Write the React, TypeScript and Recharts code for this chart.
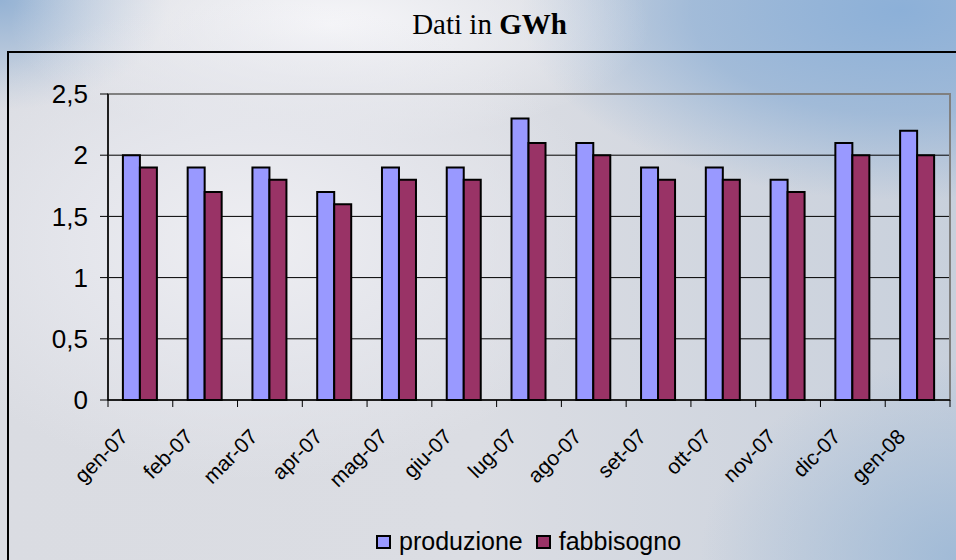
import React from 'react';
import { BarChart, Bar, XAxis, YAxis, CartesianGrid, ReferenceArea } from 'recharts';

const months = ['gen-07', 'feb-07', 'mar-07', 'apr-07', 'mag-07', 'giu-07', 'lug-07', 'ago-07', 'set-07', 'ott-07', 'nov-07', 'dic-07', 'gen-08'];
const produzione = [2.0, 1.9, 1.9, 1.7, 1.9, 1.9, 2.3, 2.1, 1.9, 1.9, 1.8, 2.1, 2.2];
const fabbisogno = [1.9, 1.7, 1.8, 1.6, 1.8, 1.8, 2.1, 2.0, 1.8, 1.8, 1.7, 2.0, 2.0];
const yTicks = [0, 0.5, 1, 1.5, 2, 2.5];
const seriesNames = ['produzione', 'fabbisogno'];
const seriesColors = ['#9999FF', '#993366'];

const data = months.map((m, i) => ({ month: m, produzione: produzione[i], fabbisogno: fabbisogno[i] }));

const SANS = '"Liberation Sans", Arial, sans-serif';
const SERIF = '"Liberation Serif", "Times New Roman", serif';

const XTick = (props: any) => {
  const { x, y, payload, index } = props;
  const half = payload && typeof payload.offset === 'number' && payload.offset > 0 ? payload.offset : 842 / months.length / 2;
  const isLast = index === months.length - 1;
  const tx = x - 11;
  const ty = y + 38;
  return (
    <g>
      <line x1={x - half} y1={y} x2={x - half} y2={y + 7} stroke="#000" strokeWidth={1} />
      {isLast && <line x1={x + half} y1={y} x2={x + half} y2={y + 7} stroke="#000" strokeWidth={1} />}
      <text x={tx} y={ty} transform={`rotate(-45, ${tx}, ${ty})`} textAnchor="end" fontSize={21} fontFamily={SANS} fill="#000">
        {payload.value}
      </text>
    </g>
  );
};

export default function App() {
  return (
    <div
      style={{
        position: 'absolute',
        left: 0,
        top: 0,
        width: 956,
        height: 560,
        overflow: 'hidden',
        background:
          'radial-gradient(ellipse 360px 240px at 250px 240px, rgba(238,238,242,1) 0%, rgba(230,231,237,0.9) 45%, rgba(230,231,237,0) 100%),' +
          'radial-gradient(ellipse 320px 120px at 330px 25px, rgba(246,246,249,1) 0%, rgba(242,242,246,0) 100%),' +
          'radial-gradient(ellipse 380px 190px at 900px 10px, rgba(140,176,216,1) 0%, rgba(146,178,214,0.75) 55%, rgba(146,178,214,0) 100%),' +
          'radial-gradient(ellipse 260px 200px at 960px 560px, rgba(156,184,214,0.9) 0%, rgba(156,184,214,0) 100%),' +
          'radial-gradient(ellipse 170px 110px at 0px 0px, rgba(148,178,212,1) 0%, rgba(148,178,212,0) 100%),' +
          'linear-gradient(90deg, #dadce2 0%, #dbdde3 50%, #c8d0dc 100%)',
      }}
    >
      <div
        style={{
          position: 'absolute',
          left: 7,
          top: 51,
          width: 2000,
          height: 2000,
          border: '2px solid #000',
        }}
      />
      <div
        style={{
          position: 'absolute',
          left: 0,
          width: 979,
          top: 8,
          textAlign: 'center',
          fontFamily: SERIF,
          fontSize: 29,
          lineHeight: '32px',
          color: '#000',
          whiteSpace: 'nowrap',
        }}
      >
        Dati in <b>GWh</b>
      </div>
      <div style={{ position: 'absolute', left: 0, top: 0 }}>
        <BarChart
          width={956}
          height={560}
          data={data}
          margin={{ top: 94, right: 6, left: 0, bottom: 0 }}
          barCategoryGap="23%"
          barGap={0}
        >
          <CartesianGrid vertical={false} stroke="#000" strokeWidth={1} />
          <ReferenceArea y1={0} y2={2.5} stroke="#808080" strokeWidth={2} fill="none" fillOpacity={0} />
          <XAxis
            dataKey="month"
            interval={0}
            height={160}
            tickSize={0}
            tickMargin={0}
            tickLine={false}
            axisLine={{ stroke: '#000', strokeWidth: 1.5 }}
            tick={<XTick />}
          />
          <YAxis
            width={108}
            domain={[0, 2.5]}
            ticks={yTicks}
            interval={0}
            tickSize={8}
            tickMargin={12}
            tickLine={{ stroke: '#000' }}
            axisLine={{ stroke: '#000', strokeWidth: 1.5 }}
            tickFormatter={(v: number) => String(v).replace('.', ',')}
            tick={{ fontSize: 26, fontFamily: SANS, fill: '#000' }}
          />
          <Bar dataKey="produzione" name={seriesNames[0]} fill={seriesColors[0]} stroke="#000" strokeWidth={2} isAnimationActive={false} />
          <Bar dataKey="fabbisogno" name={seriesNames[1]} fill={seriesColors[1]} stroke="#000" strokeWidth={2} isAnimationActive={false} />
        </BarChart>
      </div>
      <div
        style={{
          position: 'absolute',
          left: 376,
          top: 527,
          height: 28,
          display: 'flex',
          alignItems: 'center',
          fontFamily: SANS,
          fontSize: 25,
          lineHeight: '28px',
          color: '#000',
          whiteSpace: 'nowrap',
        }}
      >
        {seriesNames.map((n, i) => (
          <React.Fragment key={n}>
            <span
              style={{
                display: 'inline-block',
                boxSizing: 'border-box',
                width: 15,
                height: 14,
                background: seriesColors[i],
                border: '2px solid #000',
                marginLeft: i === 0 ? 0 : 13,
                marginRight: 8,
                marginTop: 2,
              }}
            />
            <span>{n}</span>
          </React.Fragment>
        ))}
      </div>
    </div>
  );
}
